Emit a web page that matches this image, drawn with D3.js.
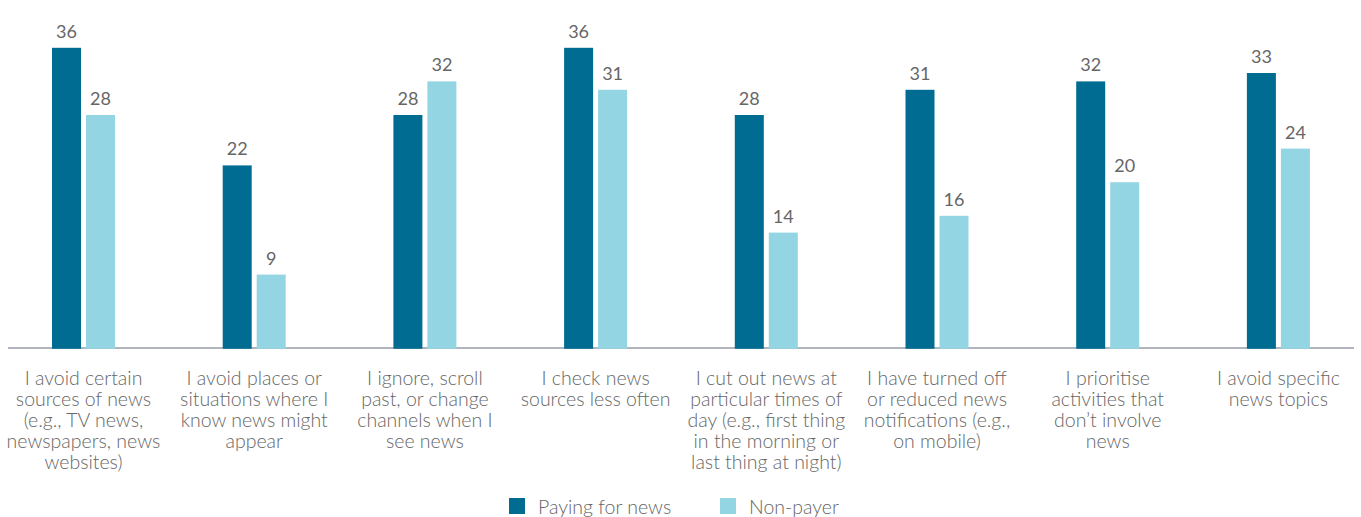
<!DOCTYPE html>
<html>
<head>
<meta charset="utf-8">
<script src="https://cdn.jsdelivr.net/npm/d3@7"></script>
<style>
  html, body { margin: 0; padding: 0; background: #fff; }
  svg { display: block; }
  text { font-family: Lato, "Open Sans", sans-serif; }
</style>
</head>
<body>
<svg id="chart" width="1361" height="517"></svg>
<script>
const categories = [
  ["I avoid certain", "sources of news", "(e.g., TV news,", "newspapers, news", "websites)"],
  ["I avoid places or", "situations where I", "know news might", "appear"],
  ["I ignore, scroll", "past, or change", "channels when I", "see news"],
  ["I check news", "sources less often"],
  ["I cut out news at", "particular times of", "day (e.g., first thing", "in the morning or", "last thing at night)"],
  ["I have turned off", "or reduced news", "notifications (e.g.,", "on mobile)"],
  ["I prioritise", "activities that", "don’t involve", "news"],
  ["I avoid specific", "news topics"]
];
const seriesNames = ["Paying for news", "Non-payer"];
const payingValues = [36, 22, 28, 36, 28, 31, 32, 33];
const nonPayerValues = [28, 9, 32, 31, 14, 16, 20, 24];
const colors = ["#006c91", "#93d5e2"];

const svg = d3.select("#chart");
const axisY = 348;

const catKeys = categories.map((c, i) => i);
const x0 = d3.scaleBand().domain(catKeys).range([-1.85, 1363.75]).padding(0);
const x1 = d3.scaleBand().domain(seriesNames).range([-31.5, 31.5]).paddingInner(5 / 34).paddingOuter(0);
const y = d3.scaleLinear().domain([0, 36]).range([350.2, 350.2 - 36 * 8.4]);

const data = [];
catKeys.forEach(i => {
  data.push({ cat: i, s: seriesNames[0], v: payingValues[i], c: colors[0] });
  data.push({ cat: i, s: seriesNames[1], v: nonPayerValues[i], c: colors[1] });
});

// axis line
svg.append("line")
  .attr("x1", 8).attr("x2", 1354)
  .attr("y1", axisY).attr("y2", axisY)
  .attr("stroke", "#9a9da8").attr("stroke-width", 1.5);

const cx = i => x0(i) + x0.bandwidth() / 2;

svg.append("g").selectAll("rect").data(data).join("rect")
  .attr("x", d => cx(d.cat) + x1(d.s))
  .attr("width", x1.bandwidth())
  .attr("y", d => y(d.v))
  .attr("height", d => axisY + 0.8 - y(d.v))
  .attr("fill", d => d.c);

svg.append("g").selectAll("text").data(data).join("text")
  .attr("x", d => cx(d.cat) + x1(d.s) + x1.bandwidth() / 2)
  .attr("y", d => y(d.v) - 10)
  .attr("text-anchor", "middle")
  .attr("font-size", 18)
  .attr("fill", "#666666")
  .text(d => d3.format("d")(d.v));

// category labels
const lab = svg.append("g");
catKeys.forEach(i => {
  const t = lab.append("text")
    .attr("text-anchor", "middle")
    .attr("font-size", 19.5)
    .attr("font-weight", 300)
    .attr("fill", "#666666");
  categories[i].forEach((line, k) => {
    t.append("tspan").attr("x", cx(i)).attr("y", 385 + k * 21).text(line);
  });
});

// legend
const legend = svg.append("g");
const legendX = [509, 720];
seriesNames.forEach((s, k) => {
  legend.append("rect")
    .attr("x", legendX[k]).attr("y", 498)
    .attr("width", 16).attr("height", 16)
    .attr("fill", colors[k]);
  legend.append("text")
    .attr("x", legendX[k] + 29).attr("y", 514)
    .attr("font-size", 19.5)
    .attr("font-weight", 300)
    .attr("fill", "#666666")
    .text(s);
});
</script>
</body>
</html>
